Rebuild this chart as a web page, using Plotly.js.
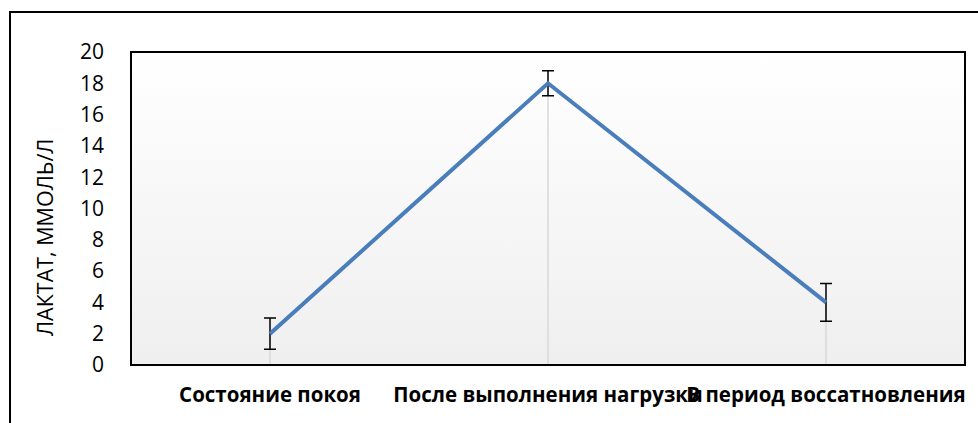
<!DOCTYPE html>
<html>
<head>
<meta charset="utf-8">
<script src="https://cdn.plot.ly/plotly-3.0.1.min.js"></script>
<style>html,body{margin:0;padding:0;background:#fff;}#chart{width:978px;height:423px;}</style>
</head>
<body>
<div id="chart"></div>
<script>
var categories = ["Состояние покоя", "После выполнения нагрузки", "В период воссатновления"];
var lactate = [2, 18, 4];
var errorValues = [1, 0.8, 1.2];
var yTicks = [0, 2, 4, 6, 8, 10, 12, 14, 16, 18, 20];
var yTitle = "ЛАКТАТ, ММОЛЬ/Л";

// drop lines built from the data
var dropX = [], dropY = [];
for (var i = 0; i < categories.length; i++) {
  dropX.push(categories[i], categories[i], null);
  dropY.push(0, lactate[i], null);
}

var grad = 'data:image/svg+xml;utf8,' + encodeURIComponent(
  '<svg xmlns="http://www.w3.org/2000/svg" width="100" height="100" preserveAspectRatio="none">' +
  '<defs><linearGradient id="g" x1="0" y1="0" x2="0" y2="1">' +
  '<stop offset="0" stop-color="#ffffff"/><stop offset="1" stop-color="#efefef"/></linearGradient></defs>' +
  '<rect width="100" height="100" fill="url(#g)"/></svg>');

var traces = [
  {x: dropX, y: dropY, type: 'scatter', mode: 'lines', line: {color: '#d9d9d9', width: 1.5},
   hoverinfo: 'skip', showlegend: false},
  {x: categories, y: lactate, type: 'scatter', mode: 'lines',
   line: {color: '#4a7ebb', width: 4},
   error_y: {type: 'data', array: errorValues, visible: true, color: '#000000', thickness: 1.5, width: 6},
   showlegend: false}
];

var W = 834, H = 313, L = 131, T = 52;
function px(x) { return (x - L) / W; }
function py(y) { return (T + H - y) / H; }

var layout = {
  width: 978, height: 423,
  margin: {l: 131, r: 13, t: 52, b: 58},
  paper_bgcolor: '#ffffff',
  plot_bgcolor: 'rgba(0,0,0,0)',
  showlegend: false,
  font: {family: 'Open Sans, sans-serif', color: '#000000'},
  xaxis: {
    type: 'category', range: [-0.5, 2.5], tickangle: 0,
    showgrid: false, zeroline: false, showline: false, ticks: '',
    tickfont: {family: 'Open Sans, sans-serif', size: 20.5, weight: 'bold', color: '#000000'},
    ticklabelstandoff: 15, fixedrange: true
  },
  yaxis: {
    range: [0, 20], tickvals: yTicks, ticktext: yTicks.map(String),
    showgrid: false, zeroline: false, showline: false, ticks: '',
    tickfont: {family: 'Open Sans, sans-serif', size: 21, color: '#000000'},
    ticklabelstandoff: 26, fixedrange: true
  },
  images: [{source: grad, xref: 'paper', yref: 'paper', x: 0, y: 1, sizex: 1, sizey: 1,
            sizing: 'stretch', xanchor: 'left', yanchor: 'top', layer: 'below'}],
  shapes: [
    {type: 'rect', xref: 'paper', yref: 'paper', x0: 0, x1: 1, y0: 0, y1: 1,
     line: {color: '#000000', width: 2}, fillcolor: 'rgba(0,0,0,0)', layer: 'above'},
    {type: 'rect', xref: 'paper', yref: 'paper', x0: px(10), x1: px(990), y0: py(440), y1: py(12),
     line: {color: '#000000', width: 2}, fillcolor: 'rgba(0,0,0,0)', layer: 'above'}
  ],
  annotations: [
    {text: yTitle, xref: 'paper', yref: 'paper', x: px(45), y: py(238), textangle: -90,
     showarrow: false, xanchor: 'center', yanchor: 'middle',
     font: {family: 'Open Sans, sans-serif', size: 21.5, color: '#000000'}}
  ]
};

Plotly.newPlot('chart', traces, layout, {displayModeBar: false, staticPlot: true});
</script>
</body>
</html>
